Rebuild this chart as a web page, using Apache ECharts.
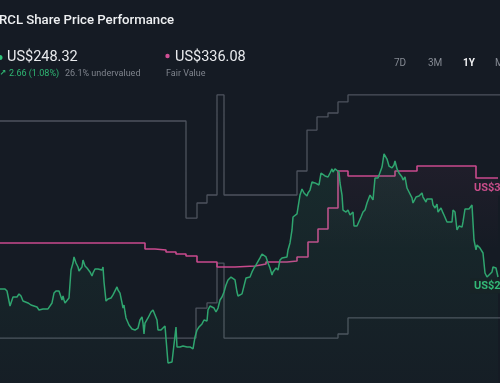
<!DOCTYPE html>
<html>
<head>
<meta charset="utf-8">
<script src="https://cdn.jsdelivr.net/npm/echarts@6/dist/echarts.min.js"></script>
<style>
html,body{margin:0;padding:0;background:#151b24;}
#c{width:500px;height:383px;}
</style>
</head>
<body>
<div id="c"></div>
<script>
// ---- data (x = day offset within the visible window, y = US$) ----
const priceDays = [0,2,5,7,10,11,13,15,17,19,21,23,25,28,31,33,37,39,41,43,48,50,52,53,54,56,59,61,62,63,64,65,67,69,71,73,74,76,78,79,82,83,85,87,90,92,93,95,98,102,103,104,106,108,111,113,114,115,117,118,120,122,123,124,125,126,129,132,135,138,140,142,143,144,145,147,148,151,153,155,157,158,161,163,165,167,168,172,174,176,177,180,183,187,190,193,195,197,199,202,204,206,207,208,210,212,214,216,218,220,222,224,226,228,231,233,235,237,238,242,244,246,248,250,252,254,256,258,260,262,264,266,268,270,272,273,276,278,280,282,284,287,288,290,292,293,297,298,300,302,304,307,308,310,312,313,315,317,319,321,323,325,327,328,330,332,333,335,337,339,340,342,343,346,348,350,353,354,357,359,361,363,365,367,370,372,373,375,378,380,382,384,387,389,392,394,395,397,399,402,403,405,407,409,412,413,416,419,422,423,426,427,429,432,433,435,437,438,441,443,444,447,449,452,453,455,457,459,462,463,465,467,469,472,474,476,477,480,483,485,487,489,492,493,496,498];
const priceValues = [237.7,238.6,237.7,235.9,222.6,223.5,230.6,231.5,230.6,233.3,231.5,227.0,226.2,225.3,223.5,222.6,221.7,219.1,220.0,220.0,220.0,221.7,225.3,227.0,234.1,235.9,235.9,235.0,227.9,231.5,227.9,225.3,227.0,229.7,254.5,260.7,266.1,260.7,257.2,253.6,257.2,263.4,258.1,256.3,252.8,249.2,251.9,255.4,255.4,254.5,257.2,243.9,227.0,228.8,229.7,232.4,231.5,234.1,239.5,236.8,234.1,225.3,220.8,223.5,217.3,212.0,205.8,202.2,201.3,203.1,210.2,212.9,207.5,197.8,207.5,208.4,212.0,217.3,219.1,214.6,210.2,201.3,201.3,203.1,204.9,204.9,172.1,173.0,173.9,204.0,186.3,186.3,187.2,186.3,186.3,184.5,195.1,201.3,204.0,206.7,210.2,210.2,209.3,219.1,222.6,221.7,220.8,217.3,220.8,227.9,230.6,235.0,241.2,245.7,248.3,247.4,245.7,235.0,231.5,233.3,233.3,247.4,245.7,248.3,252.8,256.3,259.0,260.7,265.2,268.7,267.8,266.1,260.7,256.3,250.1,252.8,256.3,254.5,263.4,265.2,266.1,266.1,272.3,278.5,290.0,301.5,304.2,305.9,321.0,326.3,322.8,320.1,322.8,325.4,332.5,331.7,331.7,332.5,329.9,340.5,340.5,337.9,338.7,337.0,340.5,344.1,341.4,344.1,343.2,341.4,331.7,321.0,307.7,305.9,307.7,303.3,305.9,293.5,293.5,294.4,301.5,305.9,307.7,313.9,321.0,321.9,316.6,336.1,336.1,337.0,345.8,357.4,352.9,346.7,345.0,347.6,351.2,344.1,340.5,337.0,334.3,337.0,327.2,323.7,318.4,313.9,319.2,320.1,322.8,319.2,314.8,317.5,318.4,317.5,312.2,309.5,313.0,305.9,309.5,305.1,303.3,297.1,296.2,297.1,307.7,305.9,290.0,293.5,292.6,297.1,308.6,309.5,308.6,312.2,281.1,272.3,276.7,274.0,269.6,251.9,248.3,250.1,252.8,257.2,256.3,248.32];

const fairDays   = [0,145,155,166,176,186,197,217,235,255,266,287,297,308,318,328,338,348,395,417,476,498];
const fairValues = [278.5,273.1,272.3,270.5,268.7,266.9,261.6,257.2,258.1,259.8,261.6,262.5,266.1,279.4,290.9,309.5,342.3,337.9,342.3,346.7,336.08,336.08];

const highDays   = [0,186,197,207,217,224,297,307,317,328,338,348,500];
const highValues = [386.6,300.6,313.9,321.0,409.7,321.0,342.3,378.6,390.2,393.7,403.5,409.7,409.7];

const lowDays    = [0,196,207,217,224,338,348,500];
const lowValues  = [194.2,220.8,225.3,260.7,194.2,197.8,212.0,212.0];

const lastPrice = 248.32, fairValue = 336.08;
const headerTexts = {
  title: 'RCL Share Price Performance',
  price: 'US$248.32',
  change: '2.66 (1.08%)',
  undervalued: '26.1% undervalued',
  fair: 'US$336.08',
  fairLabel: 'Fair Value'
};
const periods = ['7D','3M','1Y','Max'];

// ---- chart ----
const zip = (a, b) => a.map((v, i) => [v, b[i]]);
const chart = echarts.init(document.getElementById('c'), null, {renderer: 'canvas'});
const GREEN = '#2fa56f', PINK = '#c94a8d', GREY = '#4d535d';

chart.setOption({
  backgroundColor: '#151b24',
  animation: false,
  grid: {left: 0, right: 0, top: 0, bottom: 0},
  xAxis: {type: 'value', min: 0, max: 500, show: false},
  yAxis: {type: 'value', min: 154.35, max: 493.88, show: false, splitLine: {show: false}},
  series: [
    {type: 'line', name: 'high', step: 'end', data: zip(highDays, highValues), symbol: 'none',
     lineStyle: {color: GREY, width: 1.3}, silent: true, z: 1},
    {type: 'line', name: 'low', step: 'end', data: zip(lowDays, lowValues), symbol: 'none',
     lineStyle: {color: GREY, width: 1.3}, silent: true, z: 1},
    {type: 'line', name: 'fair', step: 'end', data: zip(fairDays, fairValues), symbol: 'none',
     lineStyle: {color: PINK, width: 1.6}, silent: true, z: 2,
     areaStyle: {color: new echarts.graphic.LinearGradient(0, 160, 0, 250, [
       {offset: 0, color: 'rgba(201,74,141,0.09)'}, {offset: 1, color: 'rgba(201,74,141,0.0)'}], true)}},
    {type: 'line', name: 'price', data: zip(priceDays, priceValues), symbol: 'none',
     lineStyle: {color: GREEN, width: 1.5}, silent: true, z: 3,
     areaStyle: {color: new echarts.graphic.LinearGradient(0, 0, 0, 1, [
       {offset: 0, color: 'rgba(47,165,111,0.17)'}, {offset: 1, color: 'rgba(47,165,111,0.03)'}])}}
  ]
});

const pFair = chart.convertToPixel({gridIndex: 0}, [fairDays[fairDays.length - 1], fairValue]);
const pPrice = chart.convertToPixel({gridIndex: 0}, [priceDays[priceDays.length - 1], lastPrice]);
const F = 'Roboto, sans-serif';

const g = [
  {type: 'text', x: -1, y: 21, style: {text: headerTexts.title, fill: '#eef0f2', font: '500 13.2px ' + F, verticalAlign: 'middle'}},
  {type: 'circle', shape: {cx: 0, cy: 57.5, r: 2.5}, style: {fill: '#2fc47a'}},
  {type: 'text', x: 7, y: 57, style: {text: headerTexts.price, fill: '#e8eaed', font: '14.5px ' + F, verticalAlign: 'middle'}},
  {type: 'text', x: -0.5, y: 73, style: {text: '↗', fill: '#2fb673', font: 'bold 8px "DejaVu Sans"', verticalAlign: 'middle'}},
  {type: 'text', x: 9, y: 73.5, style: {text: headerTexts.change, fill: '#2fb673', font: '9px ' + F, verticalAlign: 'middle'}},
  {type: 'text', x: 65, y: 73.5, style: {text: headerTexts.undervalued, fill: '#7f848d', font: '9px ' + F, verticalAlign: 'middle'}},
  {type: 'circle', shape: {cx: 167.5, cy: 56, r: 2.2}, style: {fill: '#d04f94'}},
  {type: 'text', x: 175, y: 57, style: {text: headerTexts.fair, fill: '#e8eaed', font: '14.5px ' + F, verticalAlign: 'middle'}},
  {type: 'text', x: 166, y: 73.5, style: {text: headerTexts.fairLabel, fill: '#7f848d', font: '9px ' + F, verticalAlign: 'middle'}}
];
const px = [394, 428, 463, 495];
periods.forEach((p, i) => {
  const active = p === '1Y';
  g.push({type: 'text', x: px[i], y: 63, style: {text: p, fill: active ? '#f2f3f5' : '#858a93',
    font: (active ? 'bold ' : '') + '10px ' + F, verticalAlign: 'middle'}});
});
g.push({type: 'text', x: pFair[0] - 28, y: pFair[1] + 10, z: 10, style: {text: 'US$336.08', fill: '#c84d8a',
  font: 'bold 11px ' + F, verticalAlign: 'middle', backgroundColor: '#1b1e29', padding: [2, 3, 2, 4]}});
g.push({type: 'text', x: pPrice[0] - 28, y: pPrice[1] + 9, z: 10, style: {text: 'US$248.32', fill: '#33b877',
  font: 'bold 11px ' + F, verticalAlign: 'middle', backgroundColor: '#172326', padding: [2, 3, 2, 4]}});

chart.setOption({graphic: g});
</script>
</body>
</html>
